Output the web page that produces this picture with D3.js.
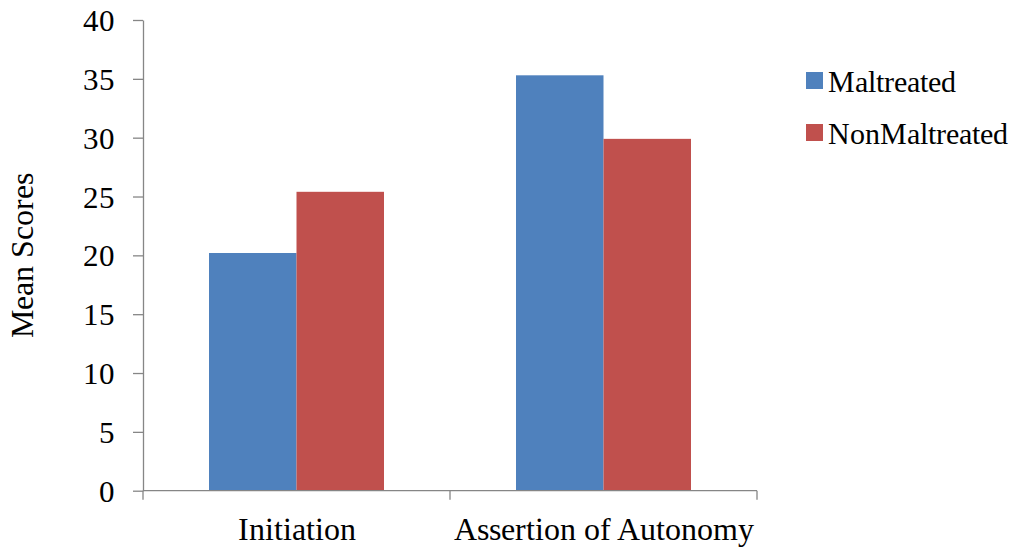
<!DOCTYPE html>
<html>
<head>
<meta charset="utf-8">
<script src="https://cdn.jsdelivr.net/npm/d3@7/dist/d3.min.js"></script>
<style>
  @font-face { font-family: "ChartSerif"; src: local("Liberation Serif"), local("LiberationSerif"), local("Tinos"), local("FreeSerif"); }
</style>
</head>
<body style="margin:0">
<svg id="chart" width="1027" height="550"></svg>
<script>
// Chart data
const categories = ["Initiation", "Assertion of Autonomy"];
const seriesNames = ["Maltreated", "NonMaltreated"];
const maltreated = [20.2, 35.3];
const nonMaltreated = [25.4, 29.9];
const yTicks = [0, 5, 10, 15, 20, 25, 30, 35, 40];
const colors = ["#4F81BD", "#C0504D"];

const seriesValues = [maltreated, nonMaltreated];
const rows = categories.map((c, i) => ({
  category: c,
  values: seriesNames.map((s, j) => ({ series: s, value: seriesValues[j][i], idx: j }))
}));

// Serif typeface for every label
function serif(sel, size) {
  sel.attr("font-size", size)
    .style("font-family", '"ChartSerif", "Liberation Serif", Tinos, FreeSerif, serif');
}

const svg = d3.select("#chart");
const axisColor = "#868686";
const plot = { left: 143, right: 757, top: 20, bottom: 490.7 };

const y = d3.scaleLinear().domain([0, 40]).range([plot.bottom, plot.top]);
const x0 = d3.scaleBand().domain(categories).range([plot.left, plot.right])
  .paddingInner(0.43).paddingOuter(0.215);
const x1 = d3.scaleBand().domain(seriesNames).range([0, x0.bandwidth()]);

// Bars
const groups = svg.append("g").selectAll("g").data(rows).join("g")
  .attr("transform", d => `translate(${x0(d.category)},0)`);
groups.selectAll("rect").data(d => d.values).join("rect")
  .attr("x", d => x1(d.series))
  .attr("y", d => y(d.value))
  .attr("width", x1.bandwidth())
  .attr("height", d => y(0) - y(d.value))
  .attr("fill", d => colors[d.idx]);

// Y axis
const yAxis = svg.append("g")
  .attr("transform", `translate(${plot.left},0)`)
  .call(d3.axisLeft(y).tickValues(yTicks).tickSize(10).tickPadding(18).tickSizeOuter(0));
yAxis.attr("font-family", null).attr("font-size", null);
yAxis.select(".domain").attr("stroke", axisColor).attr("stroke-width", 1.3);
yAxis.selectAll(".tick line").attr("stroke", axisColor).attr("stroke-width", 1.3);
yAxis.selectAll(".tick text")
  .call(serif, 31)
  .attr("fill", "#000")
  .attr("dy", "0.34em");

// X axis with category boundary ticks
const xAxis = svg.append("g").attr("transform", `translate(0,${plot.bottom})`);
xAxis.append("line")
  .attr("x1", plot.left).attr("x2", plot.right)
  .attr("stroke", axisColor).attr("stroke-width", 1.3);
const boundaries = [plot.left].concat(categories.map(c => x0(c) + x0.bandwidth() + x0.step() * x0.paddingInner() / 2));
xAxis.selectAll("line.tk").data(boundaries).join("line")
  .attr("class", "tk")
  .attr("x1", d => d).attr("x2", d => d)
  .attr("y1", 0).attr("y2", 9)
  .attr("stroke", axisColor).attr("stroke-width", 1.3);
xAxis.selectAll("text").data(categories).join("text")
  .attr("x", d => x0(d) + x0.bandwidth() / 2)
  .attr("y", 49)
  .attr("text-anchor", "middle")
  .call(serif, 32)
  .text(d => d);

// Y axis title
svg.append("text")
  .attr("transform", `translate(33,${(plot.top + plot.bottom) / 2}) rotate(-90)`)
  .attr("text-anchor", "middle")
  .call(serif, 32)
  .text("Mean Scores");

// Legend
const legend = svg.append("g").attr("transform", "translate(806,0)");
const items = legend.selectAll("g").data(seriesNames).join("g")
  .attr("transform", (d, i) => `translate(0,${72 + i * 52})`);
items.append("rect")
  .attr("width", 17).attr("height", 17)
  .attr("fill", (d, i) => colors[i]);
items.append("text")
  .attr("x", 22).attr("y", 20)
  .call(serif, 30)
  .text(d => d);
</script>
</body>
</html>
